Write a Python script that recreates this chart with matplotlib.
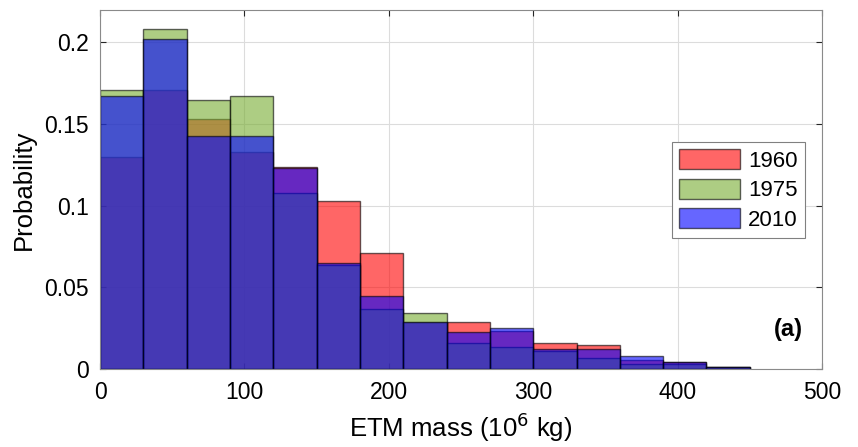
import matplotlib
matplotlib.use("Agg")
import matplotlib.pyplot as plt
import numpy as np

plt.rcParams['font.family'] = ['Liberation Sans', 'DejaVu Sans']

bin_edges = [0, 30, 60, 90, 120, 150, 180, 210, 240, 270, 300, 330, 360, 390, 420, 450]
p1960 = [0.130, 0.171, 0.153, 0.133, 0.124, 0.103, 0.071, 0.029, 0.029, 0.023, 0.0158, 0.0147, 0.0055, 0.0040, 0.0010]
p1975 = [0.171, 0.208, 0.165, 0.167, 0.108, 0.0635, 0.037, 0.0344, 0.0158, 0.0133, 0.011, 0.0066, 0.0030, 0.0030, 0.0010]
p2010 = [0.167, 0.202, 0.143, 0.143, 0.123, 0.065, 0.045, 0.029, 0.0225, 0.025, 0.012, 0.0121, 0.0080, 0.0043, 0.0015]
labels = ['1960', '1975', '2010']
colors = [(1, 0, 0), (0.466, 0.674, 0.188), (0, 0, 1)]

fig = plt.figure(figsize=(8.58, 4.47), dpi=100)
ax = fig.add_axes([0.1166, 0.1745, 0.8414, 0.8035])

edges = np.array(bin_edges)
widths = np.diff(edges)
for vals, lab, c in zip([p1960, p1975, p2010], labels, colors):
    ax.bar(edges[:-1], vals, width=widths, align='edge', color=c, alpha=0.6,
           edgecolor='black', linewidth=1.0, label=lab, zorder=2)

ax.set_xlim(0, 500)
ax.set_ylim(0, 0.22)
ax.set_xticks([0, 100, 200, 300, 400, 500])
ax.set_yticks([0, 0.05, 0.1, 0.15, 0.2])
ax.set_yticklabels(['0', '0.05', '0.1', '0.15', '0.2'])
ax.grid(True, color='#dcdcdc', linewidth=0.8, zorder=0)
ax.set_axisbelow(True)
ax.tick_params(direction='in', top=True, right=True, labelsize=16.5, length=4,
               color='#262626', width=0.8)
ax.tick_params(axis='y', pad=8)
ax.tick_params(axis='x', pad=9)
for s in ax.spines.values():
    s.set_color('#8a8a8a')
    s.set_linewidth(0.8)

ax.set_xlabel('ETM mass (10$^6$ kg)', fontsize=18.5, labelpad=4)
ax.set_ylabel('Probability', fontsize=18.5, labelpad=6)

leg = ax.legend(loc='upper left', bbox_to_anchor=(0.792, 0.633), fontsize=16,
                fancybox=False, edgecolor='#808080', framealpha=1,
                handlelength=2.75, handleheight=1.0, borderpad=0.33,
                labelspacing=0.32, handletextpad=0.35, borderaxespad=0)
leg.get_frame().set_linewidth(0.8)

ax.text(0.974, 0.109, '(a)', transform=ax.transAxes, fontsize=17,
        fontweight='bold', ha='right', va='center')

fig.savefig('out.png', dpi=100)
